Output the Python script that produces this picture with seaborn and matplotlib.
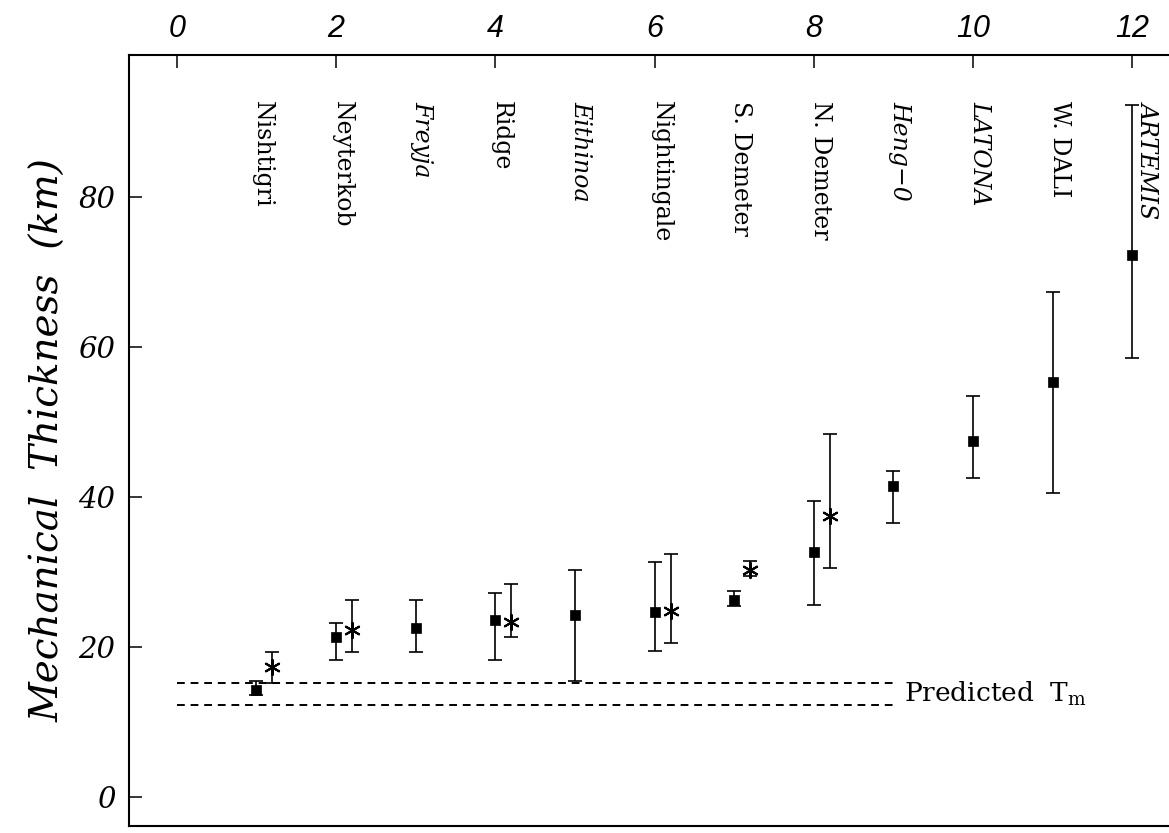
import matplotlib
matplotlib.use("Agg")
import matplotlib.pyplot as plt
import seaborn as sns
import pandas as pd

# Regions (one per slot along the x axis)
regions = ["Nishtigri", "Neyterkob", "Freyja", "Ridge", "Eithinoa", "Nightingale",
           "S. Demeter", "N. Demeter", "Heng\u22120", "LATONA", "W. DALI", "ARTEMIS"]
italic_regions = ["Freyja", "Eithinoa", "Heng\u22120", "LATONA", "ARTEMIS"]

# Mechanical thickness estimates (km), first method (squares)
sq_pos = [1, 2, 3, 4, 5, 6, 7, 8, 9, 10, 11, 12]
sq_val = [14.3, 21.3, 22.5, 23.6, 24.2, 24.7, 26.3, 32.6, 41.5, 47.4, 55.3, 72.2]
sq_lo = [13.6, 18.3, 19.3, 18.3, 15.4, 19.4, 25.5, 25.6, 36.5, 42.5, 40.5, 58.5]
sq_hi = [15.4, 23.2, 26.3, 27.2, 30.3, 31.3, 27.5, 39.5, 43.5, 53.4, 67.3, 92.2]

# Second method (asterisks), for a subset of regions
st_pos = [1, 2, 4, 6, 7, 8]
st_val = [17.3, 22.3, 23.3, 24.8, 30.3, 37.5]
st_lo = [15.2, 19.3, 21.3, 20.5, 29.4, 30.5]
st_hi = [19.3, 26.3, 28.4, 32.4, 31.4, 48.4]

# Predicted T_m bounds (km) and their x extent
pred_bounds = [15.2, 12.3]
pred_x = [0, 9]

x_ticks = [0, 2, 4, 6, 8, 10, 12]
y_ticks = [0, 20, 40, 60, 80]

ST_SHIFT = 0.2
LABEL_SHIFT = 0.08

sns.set_theme(style="ticks")
plt.rcParams["font.family"] = ["DejaVu Serif", "DejaVu Sans"]
for key in ["text.color", "axes.labelcolor", "xtick.color", "ytick.color", "axes.edgecolor"]:
    plt.rcParams[key] = "black"

fig = plt.figure(figsize=(11.69, 8.33), dpi=100)
ax = fig.add_axes([129 / 1169, 7 / 833, 1040 / 1169, 771 / 833])

df_sq = pd.DataFrame({"x": sq_pos, "y": sq_val, "lo": sq_lo, "hi": sq_hi})
df_st = pd.DataFrame({"x": [p + ST_SHIFT for p in st_pos], "y": st_val, "lo": st_lo, "hi": st_hi})

err_kw = dict(fmt="none", ecolor="black", elinewidth=1.2, capsize=4.8, capthick=1.2, zorder=2)
ax.errorbar(df_sq["x"], df_sq["y"], yerr=[df_sq["y"] - df_sq["lo"], df_sq["hi"] - df_sq["y"]], **err_kw)
ax.errorbar(df_st["x"], df_st["y"], yerr=[df_st["y"] - df_st["lo"], df_st["hi"] - df_st["y"]], **err_kw)

sns.scatterplot(data=df_sq, x="x", y="y", marker="s", s=52, color="black",
                edgecolor="black", linewidth=0.5, ax=ax, zorder=3)
sns.scatterplot(data=df_st, x="x", y="y", marker=(6, 2, 0), s=120, color="black",
                linewidth=1.5, ax=ax, zorder=3)

# Predicted mechanical thickness range
for yb in pred_bounds:
    sns.lineplot(x=pred_x, y=[yb, yb], color="black", linewidth=1.4,
                 dashes=False, linestyle=(0, (4, 3)), ax=ax)
ax.text(pred_x[1] + 0.13, sum(pred_bounds) / 2, r"Predicted  T$_{\mathregular{m}}$",
        fontsize=19, family="DejaVu Serif", ha="left", va="center")

# Region names, written vertically along the top
for i, name in enumerate(regions):
    xpos = sq_pos[i] + LABEL_SHIFT
    if name == "ARTEMIS":
        xpos = sq_pos[i] + 0.2
    ax.text(xpos, 92.8, name, rotation=-90, ha="center", va="top", fontsize=17,
            family="DejaVu Serif", style="italic" if name in italic_regions else "normal")

ax.set_xlim(-0.6, 12.46)
ax.set_ylim(-3.9, 98.9)
ax.set_xticks(x_ticks)
ax.set_yticks(y_ticks)
ax.xaxis.tick_top()
ax.tick_params(axis="x", which="both", top=True, bottom=False, direction="in",
               length=9, width=1.1, pad=8)
ax.tick_params(axis="y", which="both", left=True, right=False, direction="in",
               length=9, width=1.1, pad=10)
for lab in ax.get_xticklabels():
    lab.set_fontfamily("Liberation Sans")
    lab.set_fontstyle("italic")
    lab.set_fontsize(22)
for lab in ax.get_yticklabels():
    lab.set_fontfamily("DejaVu Serif")
    lab.set_fontstyle("italic")
    lab.set_fontsize(21)

ax.set_xlabel("")
ax.set_ylabel("Mechanical  Thickness  (km)", fontsize=28, style="italic",
              family="DejaVu Serif", labelpad=8)

for side in ["top", "left", "bottom"]:
    ax.spines[side].set_linewidth(1.5)
    ax.spines[side].set_color("black")
ax.spines["right"].set_visible(False)
ax.grid(False)
ax.set_facecolor("white")
fig.patch.set_facecolor("white")

fig.savefig("out.png", dpi=100, facecolor="white")
